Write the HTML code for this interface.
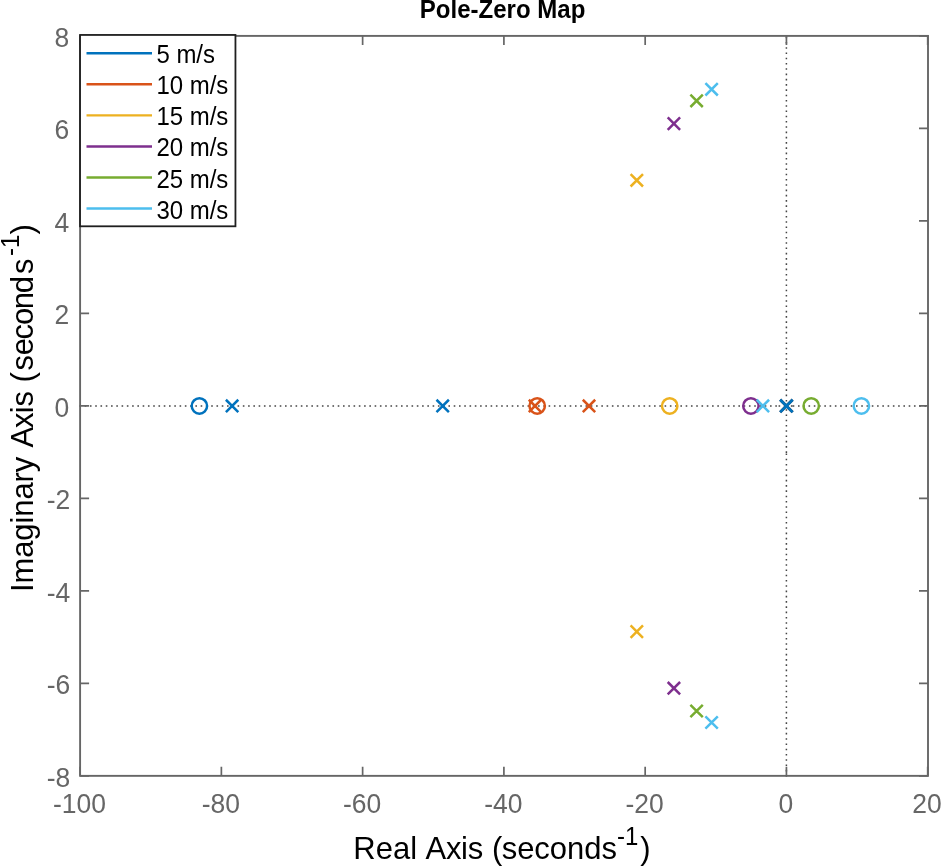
<!DOCTYPE html>
<html lang="en"><head><meta charset="utf-8"><title>Pole-Zero Map</title>
<style>html,body{margin:0;padding:0;background:#fff}body{width:941px;height:866px;overflow:hidden}svg{display:block}text{font-family:"Liberation Sans",Arial,Helvetica,sans-serif}</style></head><body>
<svg width="941" height="866" viewBox="0 0 941 866">
<rect width="941" height="866" fill="#fff"/>
<g stroke="#454545" stroke-width="1.5" fill="none" stroke-dasharray="1.6 3.672">
<path d="M79.40 405.95H778.57M778.57 405.95H785.60M785.60 405.95H792.70M792.70 405.95H928.00"/>
<path d="M786.4 776.65V452.92M786.4 452.92V406.75M786.4 406.75V359.83M786.4 359.83V35.90"/>
</g>
<g stroke="#666666" fill="none">
<rect x="80.1" y="35.9" width="847.90" height="739.95" stroke-width="1.9"/>
<path d="M80.10 775.85v-9.0M80.10 35.9v9.0M221.37 775.85v-9.0M221.37 35.9v9.0M362.63 775.85v-9.0M362.63 35.9v9.0M503.90 775.85v-9.0M503.90 35.9v9.0M645.17 775.85v-9.0M645.17 35.9v9.0M786.43 775.85v-9.0M786.43 35.9v9.0M927.70 775.85v-9.0M927.70 35.9v9.0M80.1 775.85h9.0M928.0 775.85h-9.0M80.1 683.36h9.0M928.0 683.36h-9.0M80.1 590.86h9.0M928.0 590.86h-9.0M80.1 498.37h9.0M928.0 498.37h-9.0M80.1 405.88h9.0M928.0 405.88h-9.0M80.1 313.38h9.0M928.0 313.38h-9.0M80.1 220.89h9.0M928.0 220.89h-9.0M80.1 128.39h9.0M928.0 128.39h-9.0M80.1 35.90h9.0M928.0 35.90h-9.0" stroke-width="1.7"/>
</g>
<g>
<text transform="translate(79.50 813.00) scale(0.961 1)" font-size="27.57" fill="#666666" text-anchor="middle">-100</text>
<text transform="translate(220.77 813.00) scale(0.961 1)" font-size="27.57" fill="#666666" text-anchor="middle">-80</text>
<text transform="translate(362.03 813.00) scale(0.961 1)" font-size="27.57" fill="#666666" text-anchor="middle">-60</text>
<text transform="translate(503.30 813.00) scale(0.961 1)" font-size="27.57" fill="#666666" text-anchor="middle">-40</text>
<text transform="translate(644.57 813.00) scale(0.961 1)" font-size="27.57" fill="#666666" text-anchor="middle">-20</text>
<text transform="translate(785.83 813.00) scale(0.961 1)" font-size="27.57" fill="#666666" text-anchor="middle">0</text>
<text transform="translate(927.10 813.00) scale(0.961 1)" font-size="27.57" fill="#666666" text-anchor="middle">20</text>
<text transform="translate(70.20 786.75) scale(0.961 1)" font-size="27.57" fill="#666666" text-anchor="end">-8</text>
<text transform="translate(70.20 694.26) scale(0.961 1)" font-size="27.57" fill="#666666" text-anchor="end">-6</text>
<text transform="translate(70.20 601.76) scale(0.961 1)" font-size="27.57" fill="#666666" text-anchor="end">-4</text>
<text transform="translate(70.20 509.27) scale(0.961 1)" font-size="27.57" fill="#666666" text-anchor="end">-2</text>
<text transform="translate(69.20 416.77) scale(0.961 1)" font-size="27.57" fill="#666666" text-anchor="end">0</text>
<text transform="translate(69.20 324.28) scale(0.961 1)" font-size="27.57" fill="#666666" text-anchor="end">2</text>
<text transform="translate(69.20 231.79) scale(0.961 1)" font-size="27.57" fill="#666666" text-anchor="end">4</text>
<text transform="translate(69.20 139.29) scale(0.961 1)" font-size="27.57" fill="#666666" text-anchor="end">6</text>
<text transform="translate(69.20 46.80) scale(0.961 1)" font-size="27.57" fill="#666666" text-anchor="end">8</text>
</g>
<text transform="translate(502.60 17.85) scale(0.961 1)" font-size="25.02" fill="#000" text-anchor="middle" font-weight="bold">Pole-Zero Map</text>
<text transform="translate(353.30 858.90) scale(0.961 1)" font-size="32.26" fill="#000" text-anchor="start"><tspan dx="0 0 0 0 0 1.56 0 -0.73 0 0 0 -0.42 0 -0.42 0 0 0 0">Real Axis (seconds</tspan><tspan font-size="24.97" dy="-14.4" dx="0">-1</tspan><tspan dy="14.4" dx="2.1">)</tspan></text>
<text transform="translate(33.10 592.00) rotate(-90) scale(0.961 1)" font-size="32.26" fill="#000" text-anchor="start"><tspan letter-spacing="-0.113" dx="0 0 0 0 0 0 0 0 0 0 2.60 -1.04 -0.62 0 0 0 1.87 -0.21 -1.25 -1.14 -1.25 -1.14 2.19">Imaginary Axis (seconds</tspan><tspan font-size="24.97" dy="-14.4" dx="2.7">-1</tspan><tspan dy="14.4" dx="0">)</tspan></text>
<g>
<circle cx="199.40" cy="405.95" r="7.7" stroke="#0072BD" stroke-width="2.5" fill="none"/>
<path d="M225.90 399.75L238.30 412.15M225.90 412.15L238.30 399.75" stroke="#0072BD" stroke-width="2.5" fill="none"/>
<path d="M436.50 399.75L448.90 412.15M436.50 412.15L448.90 399.75" stroke="#0072BD" stroke-width="2.5" fill="none"/>
<circle cx="537.20" cy="405.95" r="7.7" stroke="#D95319" stroke-width="2.5" fill="none"/>
<path d="M528.80 399.75L541.20 412.15M528.80 412.15L541.20 399.75" stroke="#D95319" stroke-width="2.5" fill="none"/>
<path d="M582.80 399.75L595.20 412.15M582.80 412.15L595.20 399.75" stroke="#D95319" stroke-width="2.5" fill="none"/>
<circle cx="669.70" cy="405.95" r="7.7" stroke="#EDB120" stroke-width="2.5" fill="none"/>
<path d="M630.60 174.10L643.00 186.50M630.60 186.50L643.00 174.10" stroke="#EDB120" stroke-width="2.5" fill="none"/>
<path d="M630.60 625.40L643.00 637.80M630.60 637.80L643.00 625.40" stroke="#EDB120" stroke-width="2.5" fill="none"/>
<circle cx="750.90" cy="405.95" r="7.7" stroke="#7E2F8E" stroke-width="2.5" fill="none"/>
<path d="M667.70 117.40L680.10 129.80M667.70 129.80L680.10 117.40" stroke="#7E2F8E" stroke-width="2.5" fill="none"/>
<path d="M667.70 682.00L680.10 694.40M667.70 694.40L680.10 682.00" stroke="#7E2F8E" stroke-width="2.5" fill="none"/>
<circle cx="811.20" cy="405.95" r="7.7" stroke="#77AC30" stroke-width="2.5" fill="none"/>
<path d="M690.40 94.60L702.80 107.00M690.40 107.00L702.80 94.60" stroke="#77AC30" stroke-width="2.5" fill="none"/>
<path d="M690.40 704.80L702.80 717.20M690.40 717.20L702.80 704.80" stroke="#77AC30" stroke-width="2.5" fill="none"/>
<circle cx="861.40" cy="405.95" r="7.7" stroke="#4DBEEE" stroke-width="2.5" fill="none"/>
<path d="M705.40 83.10L717.80 95.50M705.40 95.50L717.80 83.10" stroke="#4DBEEE" stroke-width="2.5" fill="none"/>
<path d="M705.40 716.30L717.80 728.70M705.40 728.70L717.80 716.30" stroke="#4DBEEE" stroke-width="2.5" fill="none"/>
<path d="M756.70 399.75L769.10 412.15M756.70 412.15L769.10 399.75" stroke="#4DBEEE" stroke-width="2.5" fill="none"/>
<path d="M780.10 399.65L792.70 412.25M780.10 412.25L792.70 399.65" stroke="#34506b" stroke-width="3.0" fill="none"/>
<path d="M780.20 399.75L792.60 412.15M780.20 412.15L792.60 399.75" stroke="#0072BD" stroke-width="2.5" fill="none"/>
</g>
<rect x="80.05" y="34.95" width="155.40" height="191.35" fill="#fff" stroke="#1f1f1f" stroke-width="1.8"/>
<g>
<line x1="86.5" y1="53.25" x2="152.0" y2="53.25" stroke="#0072BD" stroke-width="2.4"/>
<text transform="translate(156.40 62.70) scale(0.961 1)" font-size="24.97" fill="#000" text-anchor="start">5 m/s</text>
<line x1="86.5" y1="84.31" x2="152.0" y2="84.31" stroke="#D95319" stroke-width="2.4"/>
<text transform="translate(156.40 93.90) scale(0.961 1)" font-size="24.97" fill="#000" text-anchor="start">10 m/s</text>
<line x1="86.5" y1="115.37" x2="152.0" y2="115.37" stroke="#EDB120" stroke-width="2.4"/>
<text transform="translate(156.40 125.10) scale(0.961 1)" font-size="24.97" fill="#000" text-anchor="start">15 m/s</text>
<line x1="86.5" y1="146.43" x2="152.0" y2="146.43" stroke="#7E2F8E" stroke-width="2.4"/>
<text transform="translate(156.40 156.30) scale(0.961 1)" font-size="24.97" fill="#000" text-anchor="start">20 m/s</text>
<line x1="86.5" y1="177.49" x2="152.0" y2="177.49" stroke="#77AC30" stroke-width="2.4"/>
<text transform="translate(156.40 187.50) scale(0.961 1)" font-size="24.97" fill="#000" text-anchor="start">25 m/s</text>
<line x1="86.5" y1="208.55" x2="152.0" y2="208.55" stroke="#4DBEEE" stroke-width="2.4"/>
<text transform="translate(156.40 218.70) scale(0.961 1)" font-size="24.97" fill="#000" text-anchor="start">30 m/s</text>
</g>
</svg></body></html>
